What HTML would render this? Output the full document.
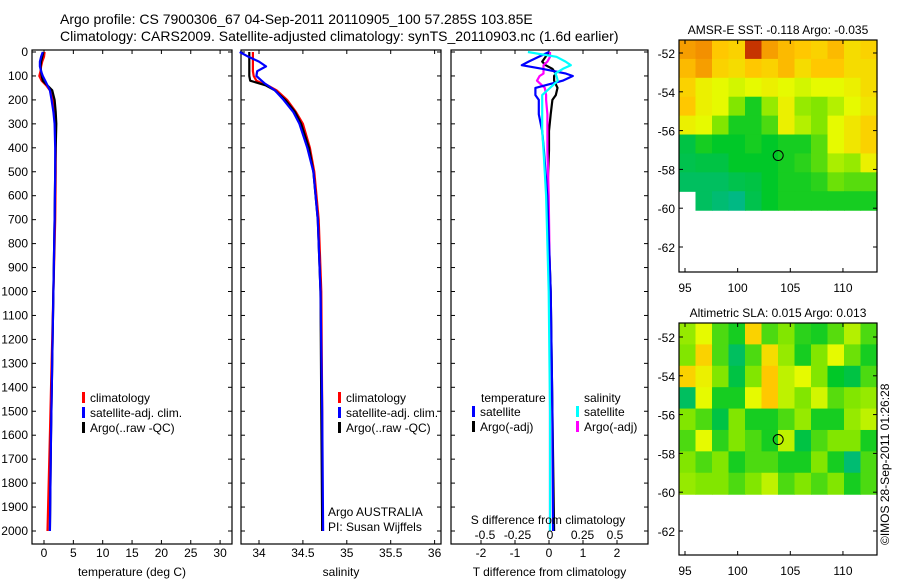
<!DOCTYPE html>
<html><head><meta charset="utf-8">
<style>
body{margin:0;background:#fff;width:900px;height:580px;overflow:hidden;font-family:"Liberation Sans",sans-serif}
svg text{font-family:"Liberation Sans",sans-serif;font-size:12px;fill:#000}
</style></head>
<body>
<svg id="fig" width="900" height="580" xmlns="http://www.w3.org/2000/svg">
<text x="60" y="24" style="font-size:14px">Argo profile: CS 7900306_67 04-Sep-2011 20110905_100 57.285S 103.85E</text>
<text x="60" y="41" style="font-size:14px">Climatology: CARS2009. Satellite-adjusted climatology: synTS_20110903.nc (1.6d earlier)</text>
<g id="g"></g>
</svg>
<script>
// ---- profile data ----
const depthTicks=[0,100,200,300,400,500,600,700,800,900,1000,1100,1200,1300,1400,1500,1600,1700,1800,1900,2000];
const tempTicks=[0,5,10,15,20,25,30];
const salTicks=[34,34.5,35,35.5,36];
const salTickLabels=["34","34.5","35","35.5","36"];
const tdTicks=[-2,-1,0,1,2];
const sdTicks=[-0.5,-0.25,0,0.25,0.5];
const sdTickLabels=["-0.5","-0.25","0","0.25","0.5"];
const zT=[0,20,40,60,80,100,120,140,160,200,250,300,400,500,700,1000,1300,1600,2000];
const tempClim=[0.1,0.0,-0.3,-0.5,-0.6,-0.8,-0.4,0.4,1.0,1.5,1.9,2.0,2.0,2.0,1.9,1.6,1.3,1.0,0.6];
const tempSat=[-0.2,-0.5,-0.7,-0.7,-0.5,-0.2,0.2,0.6,1.0,1.3,1.6,1.8,1.9,1.9,1.8,1.6,1.4,1.2,1.0];
const tempArgo=[-0.1,-0.3,-0.5,-0.6,-0.5,-0.4,-0.2,0.6,1.4,1.8,2.0,2.1,2.0,1.9,1.8,1.6,1.4,1.2,1.0];
const zS=[0,20,40,60,80,100,120,130,140,160,200,250,300,400,500,700,1000,1500,2000];
const salClim=[33.93,33.93,33.93,33.93,33.93,33.94,33.97,34.03,34.1,34.2,34.32,34.42,34.5,34.58,34.63,34.68,34.71,34.72,34.72];
const salSat=[33.78,33.88,34.0,34.08,33.98,33.97,34.03,34.06,34.1,34.18,34.28,34.39,34.46,34.55,34.62,34.67,34.70,34.72,34.73];
const salArgo=[33.89,33.89,33.89,33.89,33.89,33.89,33.9,33.99,34.08,34.18,34.3,34.41,34.48,34.57,34.62,34.67,34.70,34.71,34.72];
const zD=[0,20,40,55,70,90,100,120,150,180,200,260,330,410,600,1000,1500,2000];
const tDiffSat=[0.0,-0.3,-0.6,-0.8,-0.2,0.5,0.7,0.4,-0.4,-0.4,-0.3,-0.3,-0.2,-0.15,-0.05,0.05,0.1,0.12];
const tDiffArgo=[0.0,-0.1,-0.2,-0.1,0.1,0.2,0.15,0.15,0.25,0.2,0.1,0.05,0.0,0.0,-0.05,0.05,0.1,0.15];
const sDiffSat=[-0.17,0.05,0.12,0.16,0.1,0.04,0.05,0.06,0.0,-0.06,-0.06,-0.06,-0.06,-0.05,-0.03,-0.01,0.0,0.0];
const sDiffArgo=[0.0,0.0,-0.02,-0.05,-0.05,-0.05,-0.08,-0.1,-0.04,-0.03,-0.03,-0.02,-0.02,-0.02,-0.01,0.0,0.0,0.0];
// ---- map data (normalised colour values, rows -52..-60 top to bottom, cols 95..113) ----
const sstGrid=[
[.86,.88,.8,.78,.96,.86,.82,.8,.78,.82,.76,.78],
[.82,.86,.78,.76,.8,.78,.82,.76,.8,.8,.76,.76],
[.78,.72,.7,.68,.7,.72,.7,.68,.7,.7,.72,.76],
[.8,.72,.7,.6,.5,.62,.72,.62,.6,.65,.7,.74],
[.72,.7,.6,.5,.5,.55,.72,.65,.6,.7,.74,.78],
[.45,.5,.48,.48,.5,.48,.5,.5,.56,.7,.74,.78],
[.44,.45,.45,.48,.48,.48,.5,.52,.56,.64,.62,.72],
[.42,.42,.42,.44,.45,.48,.5,.5,.52,.58,.56,.56],
[-1,.42,.4,.38,.44,.48,.5,.5,.5,.5,.5,.5]];
const slaGrid=[
[.62,.7,.55,.5,.78,.55,.6,.52,.5,.56,.65,.55],
[.6,.78,.55,.42,.55,.76,.62,.5,.6,.7,.58,.5],
[.78,.72,.6,.45,.6,.8,.66,.7,.6,.48,.45,.55],
[.42,.7,.5,.5,.7,.8,.66,.6,.68,.56,.6,.62],
[.6,.55,.45,.6,.5,.5,.55,.62,.5,.5,.62,.66],
[.55,.7,.52,.6,.55,.5,.66,.45,.55,.6,.6,.5],
[.6,.55,.6,.5,.55,.55,.5,.5,.6,.5,.4,.55],
[.62,.6,.6,.55,.6,.66,.55,.6,.55,.6,.5,.55]];

const NS="http://www.w3.org/2000/svg";
const G=document.getElementById('g');
function el(tag,attrs,parent){const e=document.createElementNS(NS,tag);for(const k in attrs)e.setAttribute(k,attrs[k]);(parent||G).appendChild(e);return e;}
function txt(x,y,s,anchor,parent,size){const t=el('text',{x:x,y:y,'text-anchor':anchor||'start'},parent);if(size)t.style.fontSize=size+'px';t.textContent=s;return t;}
const yD=d=>52+d*0.2395;
const TOP=50,BOT=544;

function panel(name,x0,x1,xs,xticks,xlabels,xtitle,showDepth){
  const g=el('g',{});
  
  
  el('rect',{x:x0,y:TOP,width:x1-x0,height:BOT-TOP,fill:'#fff',stroke:'#000','stroke-width':1.2},g);
  depthTicks.forEach(d=>{const y=yD(d);el('line',{x1:x0,x2:x0+4,y1:y,y2:y,stroke:'#000'},g);el('line',{x1:x1-4,x2:x1,y1:y,y2:y,stroke:'#000'},g);
    if(showDepth){const t=txt(x0-4,y+4,String(d),'end',g);}});
  xticks.forEach((v,i)=>{const x=xs(v);el('line',{x1:x,x2:x,y1:BOT,y2:BOT-4,stroke:'#000'},g);el('line',{x1:x,x2:x,y1:TOP,y2:TOP+4,stroke:'#000'},g);
    if(xlabels){const t=txt(x,557,xlabels[i],'middle',g);}});
  if(xtitle){const t=txt((x0+x1)/2,576,xtitle,'middle',g);}
  return g;
}
function line(g,xs,vals,zs,color,name,w){
  const pts=vals.map((v,i)=>xs(v).toFixed(1)+','+yD(zs[i]).toFixed(1)).join(' ');
  const p=el('polyline',{points:pts,fill:'none',stroke:color,'stroke-width':w||2.2,'stroke-linejoin':'round'},g);
  
  
}
function legend(g,x,y,items){
  items.forEach((it,i)=>{el('rect',{x:x,y:y+i*15-10,width:3,height:11,fill:it[1]},g);
    const t=txt(x+8,y+i*15,it[0],'start',g);});
}
// temperature
const xT=t=>44+t*5.87;
const p1=panel('temperature-panel',32,232,xT,tempTicks,tempTicks.map(String),'temperature (deg C)',true);
line(p1,xT,tempClim,zT,'#f00','temp-climatology-line');
line(p1,xT,tempArgo,zT,'#000','temp-argo-line');
line(p1,xT,tempSat,zT,'#00f','temp-satellite-line');
legend(p1,82,402,[['climatology','#f00'],['satellite-adj. clim.','#00f'],['Argo(..raw -QC)','#000']]);
// salinity
const xS=s=>259+(s-34)*87.8;
const p2=panel('salinity-panel',241,441,xS,salTicks,salTickLabels,'salinity',false);
line(p2,xS,salClim,zS,'#f00','sal-climatology-line');
line(p2,xS,salArgo,zS,'#000','sal-argo-line');
line(p2,xS,salSat,zS,'#00f','sal-satellite-line');
legend(p2,338,402,[['climatology','#f00'],['satellite-adj. clim.','#00f'],['Argo(..raw -QC)','#000']]);
txt(328,516,'Argo AUSTRALIA','start',p2);
txt(328,531,'PI: Susan Wijffels','start',p2);
// difference
const xTD=d=>549+d*34;
const xSD=d=>550+d*130;
const p3=panel('difference-panel',451,648,xTD,tdTicks,tdTicks.map(String),'T difference from climatology',false);
line(p3,xTD,tDiffArgo,zD,'#000','tdiff-argo-line');
line(p3,xSD,sDiffArgo,zD,'#f0f','sdiff-argo-line');
line(p3,xTD,tDiffSat,zD,'#00f','tdiff-satellite-line');
line(p3,xSD,sDiffSat,zD,'#0ff','sdiff-satellite-line');
sdTicks.forEach((v,i)=>{const t=txt(xSD(v),539,sdTickLabels[i],'middle',p3);});
const st=txt(548,524,'S difference from climatology','middle',p3);
txt(481,402,'temperature','start',p3);txt(584,402,'salinity','start',p3);
legend(p3,472,416,[['satellite','#00f'],['Argo(-adj)','#000']]);
legend(p3,576,416,[['satellite','#0ff'],['Argo(-adj)','#f0f']]);

// maps
function cmap(v){ // jet-like
  const stops=[[0,[0,80,200]],[.35,[0,180,160]],[.48,[0,200,40]],[.6,[130,230,0]],[.7,[230,250,0]],[.8,[255,200,0]],[.9,[240,130,0]],[1,[170,0,0]]];
  for(let i=1;i<stops.length;i++){if(v<=stops[i][0]){const a=stops[i-1],b=stops[i],f=(v-a[0])/(b[0]-a[0]);
    return 'rgb('+a[1].map((c,k)=>Math.round(c+(b[1][k]-c)*f)).join(',')+')';}}
  return 'rgb(170,0,0)';
}
function mapPanel(name,top,grid,title,latTicksY){
  const g=el('g',{});
  
  
  const x0=679,x1=877,bot=top+232;
  const yL=lat=>latTicksY[0]+(-52-lat)*19.4;
  const xL=lon=>685+(lon-95)*10.53;
  const cw=(x1-x0)/grid[0].length;
  const imgTop=top, imgBot=yL(-60.1);
  const ch=(imgBot-imgTop)/grid.length;
  grid.forEach((row,r)=>row.forEach((v,c)=>{if(v<0)return;
    const cell=el('rect',{x:x0+c*cw,y:imgTop+r*ch,width:cw+0.6,height:ch+0.6,fill:cmap(v)},g);
    
    }));
  el('rect',{x:x0,y:top,width:x1-x0,height:bot-top,fill:'none',stroke:'#000','stroke-width':1.2},g);
  [-52,-54,-56,-58,-60,-62].forEach(l=>{const y=yL(l);el('line',{x1:x0,x2:x0+4,y1:y,y2:y,stroke:'#000'},g);el('line',{x1:x1-4,x2:x1,y1:y,y2:y,stroke:'#000'},g);txt(x0-4,y+5,String(l),'end',g);});
  [95,100,105,110].forEach(l=>{const x=xL(l);el('line',{x1:x,x2:x,y1:top,y2:top+4,stroke:'#000'},g);el('line',{x1:x,x2:x,y1:bot,y2:bot-4,stroke:'#000'},g);txt(x,bot+20,String(l),'middle',g);});
  const m=el('circle',{cx:xL(103.85),cy:yL(-57.285),r:5,fill:'none',stroke:'#000'},g);
  
  
  const t=txt((x0+x1)/2,top-6,title,'middle',g);
}
mapPanel('sst-map',40,sstGrid,'AMSR-E SST: -0.118 Argo: -0.035',[53]);
mapPanel('sla-map',323,slaGrid,'Altimetric SLA: 0.015 Argo: 0.013',[337]);
const cr=txt(0,0,'©IMOS 28-Sep-2011 01:26:28','start');
cr.setAttribute('transform','translate(889,545) rotate(-90)');


</script>
</body></html>
